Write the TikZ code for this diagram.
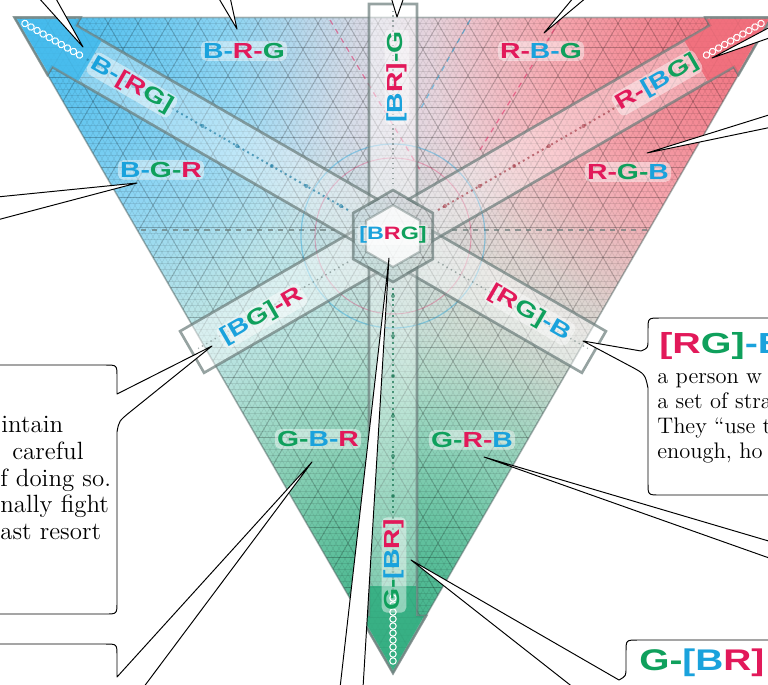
\documentclass[tikz,border=0pt]{standalone}
\usepackage{fontspec}
\newfontfamily\lblfont{Liberation Sans}
\usetikzlibrary{fadings}
\definecolor{cB}{HTML}{1AA2DC}
\definecolor{cR}{HTML}{E2195A}
\definecolor{cG}{HTML}{0FA05C}
\definecolor{vB}{HTML}{33B5EC}
\definecolor{vR}{HTML}{F0606F}
\definecolor{vG}{HTML}{22A877}
\definecolor{edgegray}{HTML}{6A7C7A}
\tikzfading[name=vfade, inner color=transparent!0, outer color=transparent!100]
\newcommand\LB[1]{\textcolor{cB}{#1}}
\newcommand\LR[1]{\textcolor{cR}{#1}}
\newcommand\LG[1]{\textcolor{cG}{#1}}
\newcommand\widen[1]{\scalebox{1.3}[1]{#1}}
\tikzset{
  lbl/.style={font=\lblfont\bfseries\fontsize{12.4}{14}\selectfont, inner sep=1.2pt, fill=white, fill opacity=0.45, text opacity=1, rounded corners=3pt},
  hlbl/.style={font=\lblfont\bfseries\fontsize{16.5}{18}\selectfont, inner sep=0pt, anchor=base west},
  callout/.style={fill=white, draw=black, line width=0.55pt, line join=round},
  bandfill/.style={fill=white, fill opacity=0.3},
  bandedge/.style={draw=edgegray, line width=1.5pt, draw opacity=0.7},
  gridfine/.style={draw=black, line width=0.3pt, draw opacity=0.09},
  gridmajor/.style={draw=black, line width=0.5pt, draw opacity=0.17},
  bodyL/.style={font=\fontsize{14.2}{16}\selectfont, anchor=base west, inner sep=0pt},
  bodyR/.style={font=\fontsize{12.8}{15}\selectfont, anchor=base west, inner sep=0pt},
}
\begin{document}
\begin{tikzpicture}[x=0.02cm, y=-0.02cm]
\useasboundingbox (0,0) rectangle (768,684);
\coordinate (C) at (393,236);
\coordinate (VB) at (14.5,17.5);
\coordinate (VR) at (771.5,17.5);
\coordinate (VG) at (393,673);

% ---- coloured triangle ----
\begin{scope}
  \clip (VB) -- (VR) -- (VG) -- cycle;
  \fill[white] (VB) -- (VR) -- (VG) -- cycle;
  \foreach \v/\c in {VB/vB, VR/vR, VG/vG} {
    \fill[\c, path fading=vfade, fill opacity=0.6] (\v) circle (540);
    \fill[\c, path fading=vfade, fill opacity=0.8] (\v) circle (340);
  }
  % fine hatching
  \draw[gridfine] \foreach \k in {0,...,110} {(0,{17.5+6*\k}) -- (780,{17.5+6*\k})};
  \draw[gridfine] \foreach \k in {0,...,127} {({14.5+6*\k},17.5) -- ++(380,658.2)};
  \draw[gridfine] \foreach \k in {0,...,127} {({771.5-6*\k},17.5) -- ++(-380,658.2)};
  % major lines
  \draw[gridmajor] \foreach \k in {0,...,22} {(0,{17.5+30*\k}) -- (780,{17.5+30*\k})};
  \draw[gridmajor] \foreach \k in {0,...,26} {({14.5+30*\k},17.5) -- ++(380,658.2)};
  \draw[gridmajor] \foreach \k in {0,...,26} {({771.5-30*\k},17.5) -- ++(-380,658.2)};
  % dashed guides and arcs
  \draw[dashed, edgegray, line width=0.9pt, opacity=0.7] (120,230) -- (335,230) (452,230) -- (680,230);
  \draw[dashed, cR, line width=0.7pt, opacity=0.5] (330,20) -- (420,170) (560,20) -- (480,150);
  \draw[dashed, cB, line width=0.7pt, opacity=0.5] (470,20) -- (420,110);
  \draw[cB, line width=0.7pt, opacity=0.4] (C) circle (92);
  \draw[cR, line width=0.6pt, opacity=0.3] (C) circle (78);
\end{scope}
\draw[edgegray, line width=0.9pt, opacity=0.5] (VB) -- (VR) -- (VG) -- cycle;

% ---- short bands ----
\foreach \a in {90,210,330} {
  \begin{scope}[shift={(C)}, rotate=\a]
    \path[bandfill, fill opacity=0.45, bandedge] (32,-24) -- (46,0) -- (32,24) -- (232,24) -- (232,-24) -- cycle;
    \draw[dotted, line width=0.8pt, edgegray, opacity=0.6] (52,0) -- (225,0);
  \end{scope}
}
% ---- long bands with arrow heads ----
\foreach \a/\c in {150/vB, 30/vR, 270/vG} {
  \begin{scope}[shift={(C)}, rotate=\a]
    \path[bandfill, bandedge] (32,-24) -- (46,0) -- (32,24) -- (380,24) -- (380,33) -- (437,0) -- (380,-33) -- (380,-24) -- cycle;
    \fill[\c, fill opacity=0.75] (380,-31) -- (434,0) -- (380,31) -- (380,23) -- (350,23) -- (350,-23) -- (380,-23) -- cycle;
    \draw[dotted, line width=1.1pt, \c!70!black, opacity=0.7] (52,0) -- (355,0);
    \foreach \r in {60,100,...,340} {\fill[\c!70!black, opacity=0.6] (\r,0) circle (2);}
    \foreach \r in {362,369,...,426} {\draw[white, line width=0.6pt] (\r,0) circle (3.2);}
  \end{scope}
}
% ---- centre hexagon ----
\path[fill=white, fill opacity=0.85, draw=edgegray, draw opacity=0.45, line width=1.2pt]
  (393,205) -- (420,220.5) -- (420,251.5) -- (393,267) -- (366,251.5) -- (366,220.5) -- cycle;

% ---- labels ----
\node[lbl] (lBRG) at (244,51) {\widen{\LB{B-}\LR{R-}\LG{G}}};
\node[lbl] (lRBG) at (541,51) {\widen{\LR{R-}\LB{B-}\LG{G}}};
\node[lbl] (lBGR) at (161,170) {\widen{\LB{B-}\LG{G-}\LR{R}}};
\node[lbl] (lRGB) at (628,172) {\widen{\LR{R-}\LG{G-}\LB{B}}};
\node[lbl] (lGBR) at (318,439) {\widen{\LG{G-}\LB{B-}\LR{R}}};
\node[lbl] (lGRB) at (472,440) {\widen{\LG{G-}\LR{R-}\LB{B}}};
\node[lbl, rotate=-30] (lBrg) at (132,85) {\widen{\LB{B-}\LR{[R}\LG{G]}}};
\node[lbl, rotate=30] (lRbg) at (657,83) {\widen{\LR{R-}\LB{[B}\LG{G]}}};
\node[lbl, rotate=90] (lbrG) at (397,77) {\widen{\LB{[B}\LR{R]}\LG{-G}}};
\node[lbl, rotate=90] (lGbr) at (394,565) {\widen{\LG{G-}\LB{[B}\LR{R]}}};
\node[lbl, rotate=30] (lbgR) at (262,316) {\widen{\LB{[B}\LG{G]}\LR{-R}}};
\node[lbl, rotate=-30] (lrgB) at (530,313) {\widen{\LR{[R}\LG{G]}\LB{-B}}};
\node[lbl, font=\lblfont\bfseries\fontsize{10.2}{12}\selectfont] (lbrg) at (393,235) {\widen{\LB{[B}\LR{R}\LG{G]}}};

% ---- callout tips ----
\coordinate (t1) at (83,47);
\coordinate (t2) at (237,29);
\coordinate (t3) at (397,17);
\coordinate (t4) at (544,33);
\coordinate (t5) at (712,58);
\coordinate (t6) at (647,153);
\coordinate (t7) at (137,183);
\coordinate (t8) at (484,457);
\coordinate (t9) at (389,258);
\coordinate (t10) at (212,346);
\coordinate (t11) at (312,462);
\coordinate (t12) at (583,341);
\coordinate (t13) at (411,560);

\filldraw[callout] (38,-3) -- (t1) -- (55,-3);
\filldraw[callout] (218,-3) -- (t2) -- (230,-3);
\filldraw[callout] (391,-3) -- (t3) -- (404,-3);
\filldraw[callout] (574,-3) -- (t4) -- (587,-3);
\filldraw[callout] (772,26) -- (t5) -- (772,37);
\filldraw[callout] (772,114) -- (t6) -- (772,127);
\filldraw[callout] (-3,197) -- (t7) -- (-3,220);
\filldraw[callout] (772,542) -- (t8) -- (772,559);
\filldraw[callout] (340,688) -- (t9) -- (363,688);

% left bubble ([BG]-R)
\filldraw[callout] (-3,365) -- (105,365) .. controls (117,365) .. (117,377) -- (117,394) -- (t10)
  -- (130,412) .. controls (119,421) .. (117,432) -- (117,602) .. controls (117,614) .. (105,614) -- (-3,614);
% bottom-left bubble (G-B-R)
\filldraw[callout] (-3,644) -- (105,644) .. controls (117,644) .. (117,656) -- (117,677) -- (t11) -- (143,688) -- (-3,688);
% right bubble ([RG]-B)
\filldraw[callout] (772,318) -- (660,318) .. controls (648,318) .. (648,330) -- (648,340) .. controls (648,348) .. (641,351)
  -- (t12) -- (630,366) .. controls (645,374) .. (648,388) -- (648,483) .. controls (648,495) .. (660,495) -- (772,495);
% bottom-right bubble (G-[BR])
\filldraw[callout] (772,640) -- (638,640) .. controls (626,640) .. (626,652) -- (626,668) .. controls (626,676) .. (619,680)
  -- (t13) -- (574,688) -- (772,688);

% ---- callout texts ----
\node[bodyL] (p1) at (1,432) {intain};
\node[bodyL] (p2) at (12,459) {careful};
\node[bodyL] (p3) at (0,486) {f doing so.};
\node[bodyL] (p4) at (0,512) {nally fight};
\node[bodyL] (p5) at (0,539) {ast resort};

\node[hlbl] (hRG) at (659,353) {\scalebox{1.36}[1]{\LR{[R}\LG{G]}\LB{-B}}};
\node[bodyR] (q1) at (657,383) {a person w};
\node[bodyR] (q2) at (657,408) {a set of stra};
\node[bodyR] (q3) at (657,433) {They “use t};
\node[bodyR] (q4) at (657,458) {enough, ho};

\node[hlbl, font=\lblfont\bfseries\fontsize{17}{19}\selectfont] (hGBR) at (639,670) {\widen{\LG{G-}\LB{[B}\LR{R]}}};
\end{tikzpicture}
\end{document}
